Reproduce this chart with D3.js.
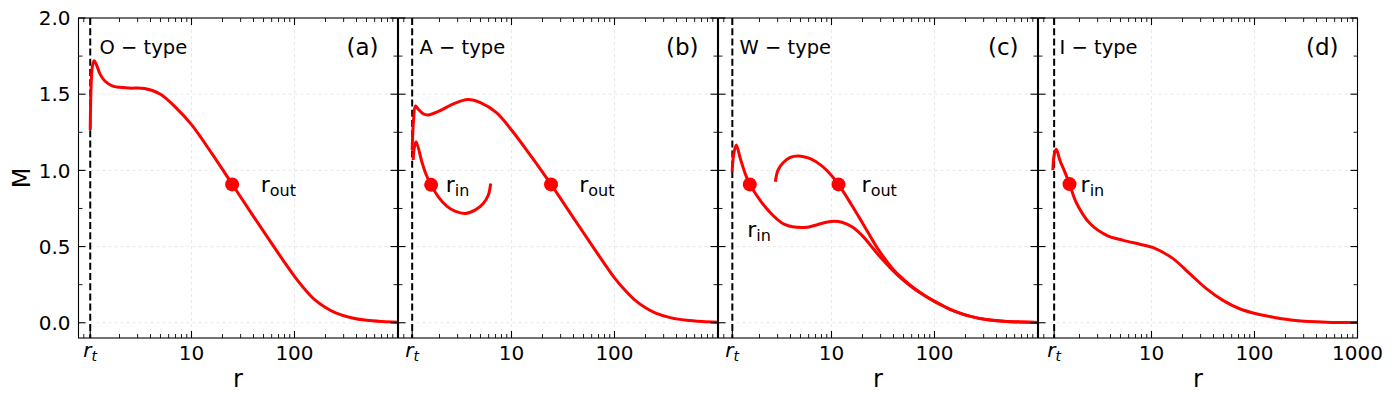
<!DOCTYPE html>
<html>
  <head>
  <title>M profiles</title>
  <style>
    body, html {
      margin: 0;
      padding: 0;
      background: #fff;
    }
    svg text {
      font-family: "DejaVu Sans", sans-serif;
    }
  </style>
  </head>
  <body>

  <svg id="svg" width="1394" height="402"></svg>

  <script src="https://d3js.org/d3.v7.min.js"></script>
  <script>
    // panel (a) O-type
    const rA = [1.04, 1.06, 1.09, 1.135, 1.2, 1.3, 1.45, 1.7, 2.0, 2.5, 3.5, 5, 7.1, 10, 15.8, 25.1, 39.8, 63, 79.4, 100, 126, 158, 200, 251, 355, 501, 708, 1000]
    const mA = [1.265, 1.55, 1.68, 1.72, 1.69, 1.63, 1.585, 1.555, 1.545, 1.54, 1.537, 1.50, 1.41, 1.30, 1.11, 0.905, 0.70, 0.50, 0.40, 0.305, 0.22, 0.15, 0.10, 0.065, 0.033, 0.016, 0.008, 0.004]

    // panel (b) A-type
    const rB1 = [1.086, 1.12, 1.169, 1.25, 1.4, 1.55, 2.0, 2.8, 3.78, 5.0, 7.1, 10, 15.8, 24.2, 39.8, 63, 79.4, 100, 126, 158, 200, 251, 355, 501, 708, 1000]
    const mB1 = [1.134, 1.33, 1.423, 1.40, 1.37, 1.364, 1.39, 1.44, 1.465, 1.445, 1.38, 1.265, 1.085, 0.908, 0.69, 0.49, 0.39, 0.295, 0.215, 0.148, 0.098, 0.063, 0.032, 0.016, 0.008, 0.004]
    const rB2 = [1.11, 1.14, 1.186, 1.348, 1.47, 1.66, 1.95, 2.35, 2.83, 3.54, 4.42, 5.32, 5.95, 6.28]
    const mB2 = [1.068, 1.15, 1.188, 1.057, 0.98, 0.903, 0.826, 0.765, 0.732, 0.717, 0.739, 0.783, 0.837, 0.914]

    // panel (c) W-type
    const rC1 = [1.086, 1.12, 1.19, 1.3, 1.45, 1.61, 2.0, 2.42, 3.51, 5.49, 7.38, 8.9, 10.7, 12.6, 15.8, 20, 28.2, 39.8, 50, 63, 79.4, 100, 126, 158, 224, 316, 501, 1000]
    const mC1 = [0.991, 1.1, 1.166, 1.08, 0.98, 0.908, 0.81, 0.739, 0.645, 0.625, 0.645, 0.66, 0.666, 0.66, 0.63, 0.57, 0.45, 0.34, 0.278, 0.225, 0.18, 0.14, 0.105, 0.075, 0.042, 0.022, 0.009, 0.002]
    const rC2 = [2.85, 3.02, 3.39, 3.98, 4.73, 5.5, 6.3, 7.94, 10, 11.7, 15.8, 20, 28.2, 39.8, 50, 63, 79.4, 100, 126, 158, 224, 316, 501, 1000]
    const mC2 = [0.925, 1.0, 1.05, 1.085, 1.094, 1.088, 1.075, 1.033, 0.967, 0.908, 0.77, 0.655, 0.485, 0.35, 0.285, 0.228, 0.181, 0.14, 0.105, 0.075, 0.042, 0.022, 0.009, 0.002]

    // panel (d) I-type
    const rD = [1.103, 1.135, 1.19, 1.3, 1.45, 1.6, 1.88, 2.53, 3.67, 5.32, 7.72, 10.4, 16.2, 23.5, 34.1, 49.4, 71.7, 104, 151, 250, 500, 1000]
    const mD = [1.002, 1.1, 1.138, 1.06, 0.985, 0.91, 0.783, 0.651, 0.574, 0.541, 0.515, 0.493, 0.421, 0.322, 0.224, 0.147, 0.092, 0.059, 0.037, 0.015, 0.004, 0.002]

    const rT = [1.04, 1.086, 1.09, 1.135]
    const titles = ['O \u2212 type', 'A \u2212 type', 'W \u2212 type', 'I \u2212 type']
    const tags = ['(a)', '(b)', '(c)', '(d)']

    // marked radii: [panel, r, M]
    const dots = [[0, 24.8, 0.908], [1, 1.66, 0.905], [1, 24.2, 0.908], [2, 1.61, 0.908], [2, 11.7, 0.908], [3, 1.6, 0.91]]
    // labels: [panel, r, M, subscript]
    const dotLabels = [[0, 47, 0.86, 'out'], [1, 2.3, 0.86, 'in'], [1, 45.5, 0.86, 'out'], [2, 19.6, 0.86, 'out'], [2, 1.52, 0.563, 'in'], [3, 2.05, 0.86, 'in']]

    const yTicks = [0, 0.5, 1.0, 1.5, 2.0]
    const yMinor = [0.25, 0.75, 1.25, 1.75]
    const xTicks = [10, 100, 1000]

    const series = [
      [[rA, mA]],
      [[rB1, mB1], [rB2, mB2]],
      [[rC1, mC1], [rC2, mC2]],
      [[rD, mD]]
    ]

    const yTop = 18, yBot = 338
    const pw = 319, left0 = 78.5, stride = 320

    const yscale = d3.scaleLinear().domain([-0.1, 2.0]).range([yBot, yTop])

    const xMinor = []
    xMinor.push(0.9)
    ;[1, 10, 100].forEach(dec => {
      for (let k = 2; k <= 9; k++) xMinor.push(k * dec)
    })

    const svg = d3.select('#svg')

    series.forEach((lines, i) => {
      const x0 = left0 + i * stride
      const xscale = d3.scaleLog().domain([0.8, 1000]).range([x0, x0 + pw])
      const g = svg.append('g')

      // grid
      g.selectAll(null).data([10, 100]).enter().append('line')
        .attr('x1', d => xscale(d)).attr('x2', d => xscale(d))
        .attr('y1', yTop).attr('y2', yBot)
        .attr('stroke', '#e3e3e3').attr('stroke-width', 0.8).attr('stroke-dasharray', '3,3')
      g.selectAll(null).data([0, 0.5, 1.0, 1.5]).enter().append('line')
        .attr('x1', x0).attr('x2', x0 + pw)
        .attr('y1', d => yscale(d)).attr('y2', d => yscale(d))
        .attr('stroke', '#e3e3e3').attr('stroke-width', 0.8).attr('stroke-dasharray', '3,3')

      // r_t line
      g.append('line')
        .attr('x1', xscale(rT[i])).attr('x2', xscale(rT[i]))
        .attr('y1', yTop).attr('y2', yBot)
        .attr('stroke', '#000').attr('stroke-width', 2).attr('stroke-dasharray', '7,3.2')

      // curves
      const line = d3.line()
        .x(d => xscale(d[0]))
        .y(d => yscale(d[1]))
        .curve(d3.curveCatmullRom.alpha(0.5))
      lines.forEach(([rs, ms]) => {
        g.append('path')
          .datum(rs.map((r, j) => [r, ms[j]]))
          .attr('d', line)
          .attr('fill', 'none')
          .attr('stroke', '#ff0000')
          .attr('stroke-width', 3)
          .attr('stroke-linejoin', 'round')
      })

      g.selectAll(null).data(dots.filter(d => d[0] === i)).enter().append('circle')
        .attr('cx', d => xscale(d[1])).attr('cy', d => yscale(d[2]))
        .attr('r', 7).attr('fill', '#ff0000')

      dotLabels.filter(d => d[0] === i).forEach(d => {
        const t = g.append('text')
          .attr('x', xscale(d[1])).attr('y', yscale(d[2]))
          .attr('font-size', 22)
        t.append('tspan').text('r')
        t.append('tspan').attr('dy', 4).attr('font-size', 16).text(d[3])
      })

      // titles
      g.append('text').attr('x', x0 + 21).attr('y', 54).attr('font-size', 19.5).text(titles[i])
      g.append('text').attr('x', x0 + pw - 19).attr('y', 55).attr('font-size', 23)
        .attr('text-anchor', 'end').text(tags[i])

      // frame
      g.append('rect').attr('x', x0).attr('y', yTop).attr('width', pw).attr('height', yBot - yTop)
        .attr('fill', 'none').attr('stroke', '#000').attr('stroke-width', 1.1)

      // x ticks, inward, bottom and top
      const xMajor = [rT[i]].concat(xTicks)
      ;[[yBot, -1], [yTop, 1]].forEach(([yy, dir]) => {
        g.selectAll(null).data(xMajor).enter().append('line')
          .attr('x1', d => xscale(d)).attr('x2', d => xscale(d))
          .attr('y1', yy).attr('y2', yy + dir * 7)
          .attr('stroke', '#000').attr('stroke-width', 1.1)
        g.selectAll(null).data(xMinor).enter().append('line')
          .attr('x1', d => xscale(d)).attr('x2', d => xscale(d))
          .attr('y1', yy).attr('y2', yy + dir * 4)
          .attr('stroke', '#000').attr('stroke-width', 0.9)
      })
      // y ticks, inward, left and right
      ;[[x0, 1], [x0 + pw, -1]].forEach(([xx, dir]) => {
        g.selectAll(null).data(yTicks).enter().append('line')
          .attr('x1', xx).attr('x2', xx + dir * 7)
          .attr('y1', d => yscale(d)).attr('y2', d => yscale(d))
          .attr('stroke', '#000').attr('stroke-width', 1.1)
        g.selectAll(null).data(yMinor).enter().append('line')
          .attr('x1', xx).attr('x2', xx + dir * 4)
          .attr('y1', d => yscale(d)).attr('y2', d => yscale(d))
          .attr('stroke', '#000').attr('stroke-width', 0.9)
      })

      // x tick labels
      const shown = i === 3 ? xTicks : xTicks.slice(0, 2)
      g.selectAll(null).data(shown).enter().append('text')
        .attr('x', d => xscale(d)).attr('y', 360)
        .attr('text-anchor', 'middle').attr('font-size', 20)
        .text(d => d)
      const rt = g.append('text').attr('x', xscale(rT[i]) - 7).attr('y', 357)
        .attr('font-size', 20).attr('font-style', 'italic')
      rt.append('tspan').text('r')
      rt.append('tspan').attr('dy', 4).attr('font-size', 14).text('t')

      if (i !== 1) {
        g.append('text').attr('x', x0 + pw / 2).attr('y', 387)
          .attr('text-anchor', 'middle').attr('font-size', 24).text('r')
      }

      if (i === 0) {
        g.selectAll(null).data(yTicks).enter().append('text')
          .attr('x', x0 - 8).attr('y', d => yscale(d))
          .attr('dy', '0.36em')
          .attr('text-anchor', 'end').attr('font-size', 20)
          .text(d => d.toFixed(1))
        g.append('text')
          .attr('transform', `translate(30, ${(yTop + yBot) / 2}) rotate(-90)`)
          .attr('text-anchor', 'middle').attr('font-size', 24).text('M')
      }
    })
  </script>
  </body>
</html>
